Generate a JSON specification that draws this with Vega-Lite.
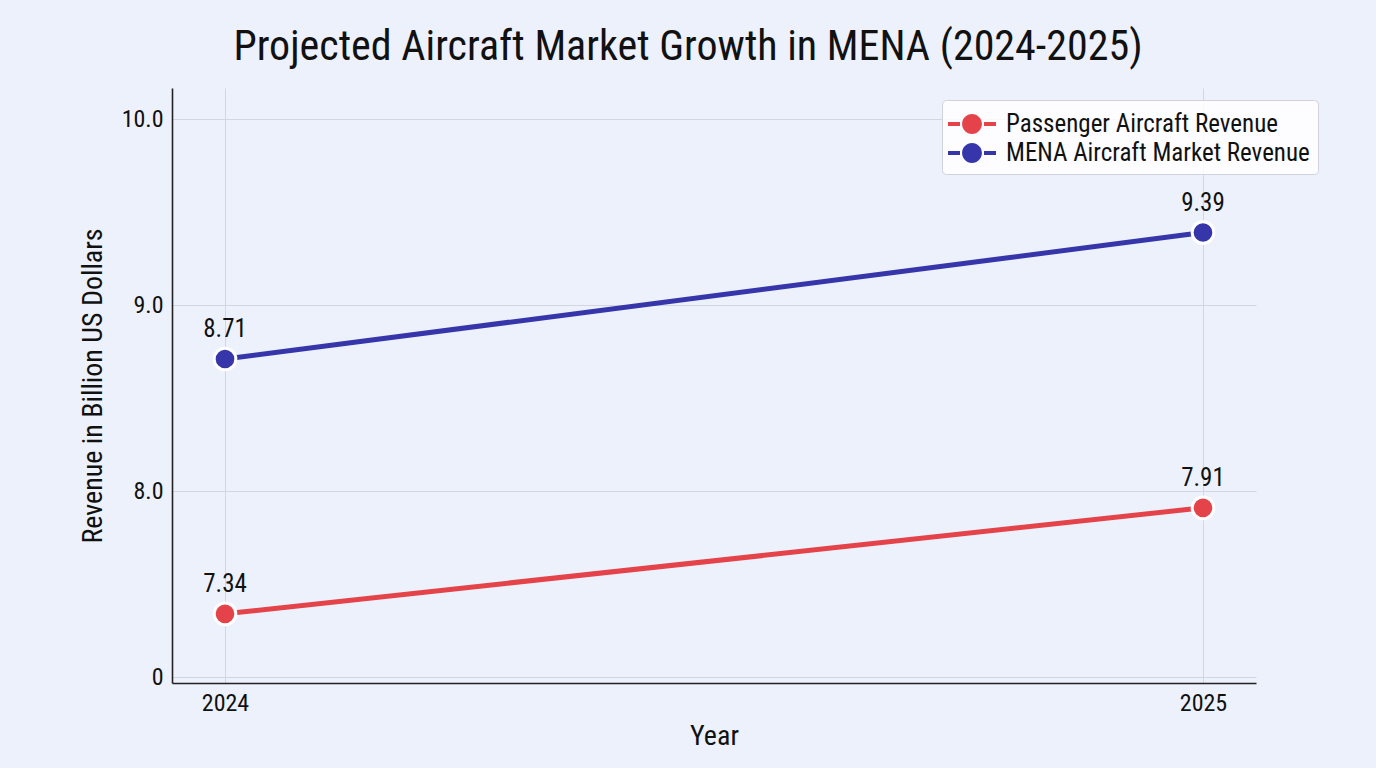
{
  "$schema": "https://vega.github.io/schema/vega-lite/v6.json",
  "autosize": {"type": "none"},
  "width": 1084,
  "height": 595,
  "padding": {"left": 172, "top": 88, "right": 120, "bottom": 85},
  "background": "#EDF1FC",
  "config": {
    "font": "Roboto Condensed, Liberation Sans Narrow, DejaVu Sans Condensed, sans-serif",
    "view": {"stroke": null, "fill": "#EDF1FC"},
    "axis": {
      "labelFont": "Roboto Condensed, Liberation Sans Narrow, DejaVu Sans Condensed, sans-serif",
      "titleFont": "Roboto Condensed, Liberation Sans Narrow, DejaVu Sans Condensed, sans-serif",
      "labelFontSize": 24,
      "titleFontSize": 28,
      "titleFontWeight": "normal",
      "labelColor": "#111111",
      "titleColor": "#111111",
      "gridColor": "#D3D6E0",
      "gridWidth": 1,
      "domainColor": "#222222",
      "domainWidth": 1.6,
      "ticks": false
    },
    "legend": {
      "labelFont": "Roboto Condensed, Liberation Sans Narrow, DejaVu Sans Condensed, sans-serif"
    }
  },
  "title": {
    "text": "Projected Aircraft Market Growth in MENA (2024-2025)",
    "fontSize": 42,
    "fontWeight": "normal",
    "color": "#111111",
    "anchor": "middle",
    "dx": -26,
    "baseline": "alphabetic",
    "offset": -14
  },
  "data": {
    "values": [
      {"year": "2024", "series": "Passenger Aircraft Revenue", "revenue": 7.34},
      {"year": "2025", "series": "Passenger Aircraft Revenue", "revenue": 7.91},
      {"year": "2024", "series": "MENA Aircraft Market Revenue", "revenue": 8.71},
      {"year": "2025", "series": "MENA Aircraft Market Revenue", "revenue": 9.39}
    ]
  },
  "encoding": {
    "x": {
      "field": "year",
      "type": "ordinal",
      "title": "Year",
      "scale": {"type": "point", "padding": 0.0542},
      "axis": {"labelAngle": 0, "grid": true, "labelPadding": 8, "titlePadding": 7}
    },
    "y": {
      "field": "revenue",
      "type": "quantitative",
      "title": "Revenue in Billion US Dollars",
      "scale": {"domain": [6.968, 10.167], "nice": false, "zero": false},
      "axis": {
        "values": [7, 8, 9, 10],
        "labelExpr": "datum.value == 7 ? '0' : format(datum.value, '.1f')",
        "grid": true,
        "labelPadding": 9,
        "titlePadding": 14
      }
    },
    "color": {
      "field": "series",
      "type": "nominal",
      "scale": {
        "domain": ["Passenger Aircraft Revenue", "MENA Aircraft Market Revenue"],
        "range": ["#E4434A", "#3636AA"]
      },
      "legend": {
        "title": null,
        "orient": "none",
        "legendX": 770,
        "legendY": 12,
        "fillColor": "rgba(255,255,255,0.85)",
        "strokeColor": "#D0D3DC",
        "cornerRadius": 4,
        "padding": 8,
        "rowPadding": 0,
        "labelFontSize": 25,
        "labelLimit": 0,
        "labelColor": "#111111",
        "labelOffset": 18,
        "symbolType": "M-1.5,-0.12 H-0.75 V0.12 H-1.5 Z M0.75,-0.12 H1.5 V0.12 H0.75 Z M0.62,0 A0.62,0.62 0 1,1 -0.62,0 A0.62,0.62 0 1,1 0.62,0 Z",
        "symbolSize": 1024,
        "symbolStrokeWidth": 0,
        "symbolOffset": 6,
        "encode": {
          "symbols": {
            "update": {
              "fill": {"scale": "color", "field": "value"},
              "stroke": {"value": "transparent"},
              "opacity": {"value": 1}
            }
          }
        }
      }
    }
  },
  "layer": [
    {
      "mark": {"type": "line", "strokeWidth": 5}
    },
    {
      "mark": {"type": "point", "filled": true, "size": 470, "stroke": "white", "strokeWidth": 3, "opacity": 1}
    },
    {
      "mark": {"type": "text", "dy": -30, "fontSize": 25, "color": "#111111"},
      "encoding": {
        "text": {"field": "revenue", "type": "quantitative", "format": ".2f"},
        "color": {"value": "#111111"}
      }
    }
  ]
}
